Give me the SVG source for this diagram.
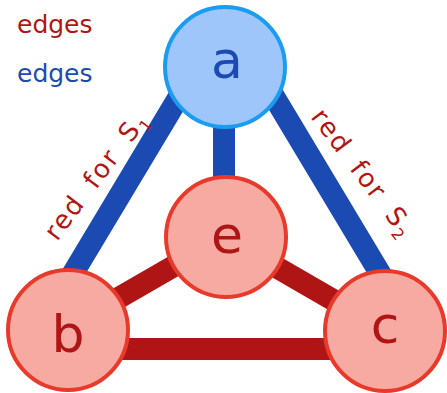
<svg xmlns="http://www.w3.org/2000/svg" width="447" height="393" viewBox="0 0 447 393">
<style>
.blue{stroke:#1a4ab2;stroke-width:22;fill:none}
.red{stroke:#b01515;stroke-width:22;fill:none}
.node{fill:#f6aaa2;stroke:#e8392a;stroke-width:4}
.nodea{fill:#9ec6fb;stroke:#1a9cf0;stroke-width:4}
.lbl{font-family:"DejaVu Sans",sans-serif;font-size:52px;text-anchor:middle}
.txt{font-family:"DejaVu Sans",sans-serif}
</style>
<rect width="447" height="393" fill="#ffffff"/>
<g id="connectors">
<line class="blue" x1="180" y1="95" x2="57" y2="300"/>
<line class="blue" x1="273" y1="95" x2="396" y2="300"/>
<line class="blue" x1="224" y1="100" x2="224" y2="200"/>
<line class="red" x1="100" y1="349" x2="360" y2="349"/>
<line class="red" x1="70" y1="326" x2="226" y2="236"/>
<line class="red" x1="226" y1="238" x2="385" y2="330"/>
</g>
<g id="legend">
<text class="txt" x="17" y="33" font-size="25" fill="#b01515">edges</text>
<text class="txt" x="17" y="82" font-size="25" fill="#1a4ab2">edges</text>
</g>
<g id="label-s1">
<text class="txt" font-size="26" fill="#b01515" letter-spacing="2" word-spacing="6" transform="translate(57,242) rotate(-53)">red for S<tspan font-size="16" dy="6">1</tspan></text>
</g>
<g id="label-s2">
<text class="txt" font-size="26" fill="#b01515" letter-spacing="2" word-spacing="6" transform="translate(310,117) rotate(53)">red for S<tspan font-size="16" dy="6">2</tspan></text>
</g>
<g id="node-a">
<circle class="nodea" cx="225" cy="67" r="60"/>
<text class="lbl" x="227" y="78" fill="#1a4ab2">a</text>
</g>
<g id="node-e">
<circle class="node" cx="226" cy="237" r="60"/>
<text class="lbl" x="227" y="253" fill="#b01515">e</text>
</g>
<g id="node-b">
<circle class="node" cx="68" cy="330" r="60"/>
<text class="lbl" x="68" y="352" fill="#b01515">b</text>
</g>
<g id="node-c">
<circle class="node" cx="385" cy="331" r="60"/>
<text class="lbl" x="385" y="343" fill="#b01515">c</text>
</g>
</svg>
